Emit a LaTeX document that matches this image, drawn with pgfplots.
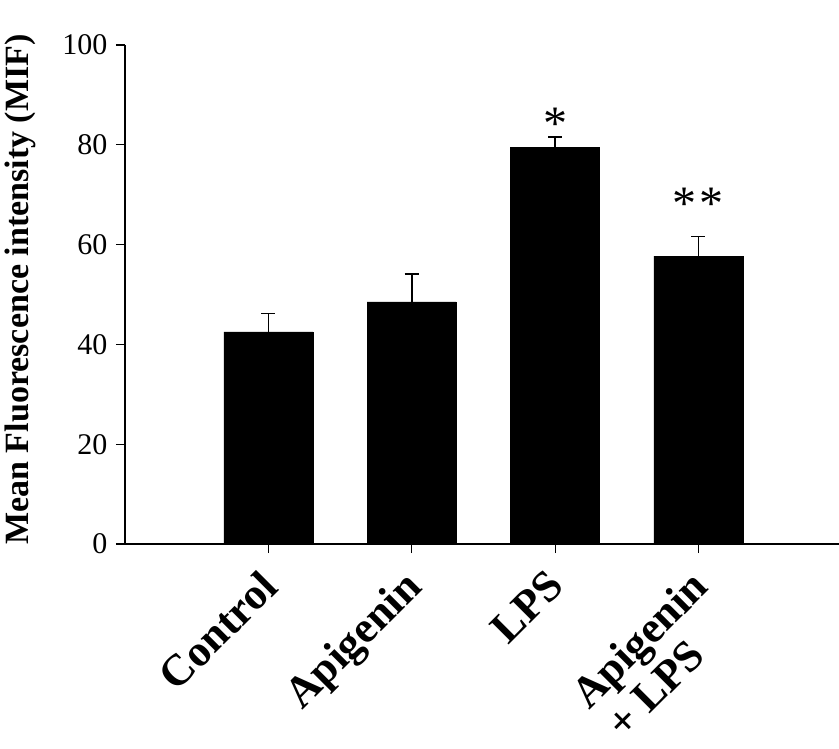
\documentclass[border=0pt]{standalone}
\usepackage{pgfplots}
\pgfplotsset{compat=1.18}
\usepackage{fontspec}
\setmainfont{Liberation Serif}
\begin{document}
\begin{tikzpicture}
\begin{axis}[
  scale only axis,
  width=714pt, height=499pt,
  xmin=0, xmax=4.98, ymin=0, ymax=100,
  axis x line=bottom, axis y line=left,
  axis line style={-, line width=1.2pt},
  ytick={0,20,...,100},
  xtick={1,2,3,4},
  xticklabels={Control, Apigenin, LPS, {Apigenin\\\hspace*{4pt}+ LPS}},
  tick align=outside,
  major tick length=9pt,
  tick style={line width=1.2pt, black},
  yticklabel style={font=\fontsize{30}{32}\selectfont, xshift=-5pt},
  xticklabel style={font=\bfseries\fontsize{44}{46}\selectfont, xshift=-10pt, yshift=-10pt, rotate=45, anchor=north east, align=left},
  /pgf/number format/assume math mode=true,
  ylabel={Mean Fluorescence intensity (MIF)},
  ylabel style={font=\bfseries\fontsize{34}{36}\selectfont, at={(axis description cs:-0.147,0.51)}, anchor=center},
  ybar, bar width=89pt,
  clip=false,
]
\addplot[fill=black, draw=black,
  error bars/.cd, y dir=plus, y explicit,
  error bar style={line width=1.6pt, black},
  error mark options={rotate=90, mark size=7pt, line width=1.6pt, black}]
  coordinates {
  (1,42.5) +- (0,3.7)
  (2,48.5) +- (0,5.6)
  (3,79.5) +- (0,2.1)
  (4,57.7) +- (0,3.9)
};
\node[font=\fontsize{48}{48}\selectfont, anchor=north, inner sep=0pt] at (axis cs:3,87.4) {*};
\node[font=\fontsize{48}{48}\selectfont, anchor=north, inner sep=0pt] at (axis cs:4,71.4) {*\kern3pt*};
\coordinate (O) at (rel axis cs:0,0);
\end{axis}
\pgfresetboundingbox
\path[use as bounding box] (O) ++(-125pt,-204pt) rectangle ++(839pt,748pt);
\end{tikzpicture}
\end{document}
